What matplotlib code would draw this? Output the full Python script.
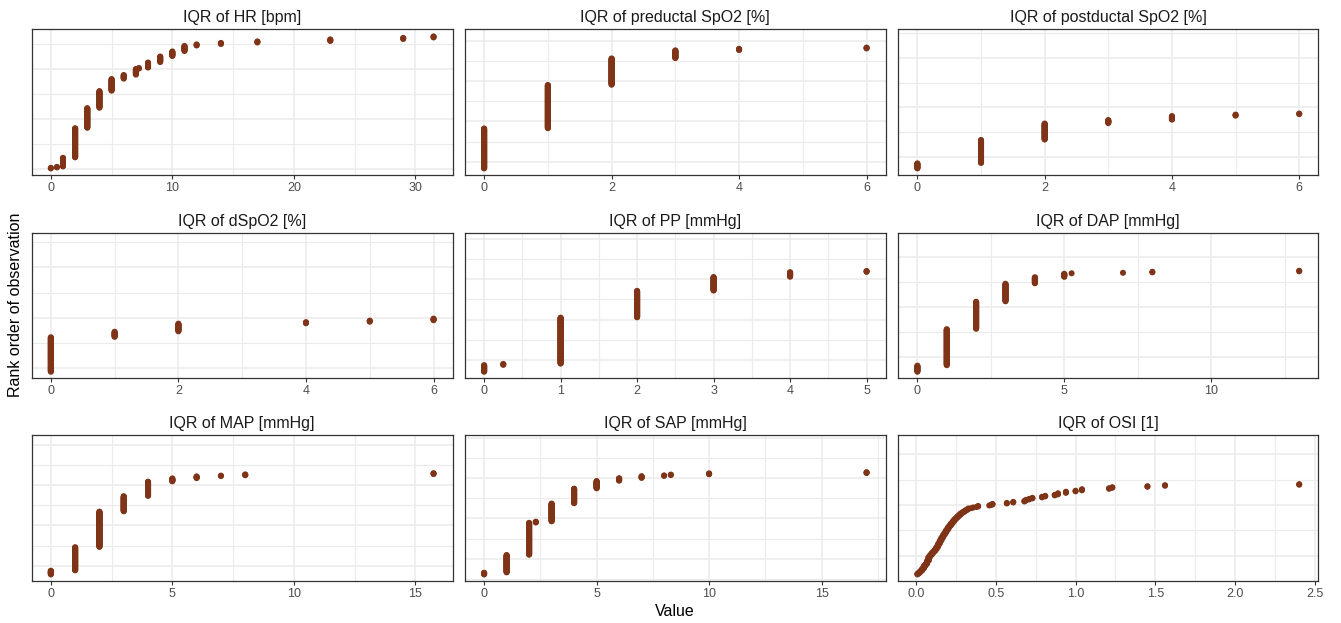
import matplotlib
matplotlib.use("Agg")
import matplotlib.pyplot as plt
from matplotlib.ticker import MultipleLocator, FormatStrFormatter
import numpy as np

plt.rcParams['font.family'] = ['Liberation Sans', 'DejaVu Sans']

# ---- data: distinct IQR values, how many observations share each, total observations ----
hr_values = [0, 0.5, 1, 2, 3, 4, 5, 6, 7, 7.25, 8, 9, 10, 11, 12, 14, 17, 23, 29, 31.5]
hr_counts = [2, 2, 18, 59, 40, 34, 24, 8, 12, 2, 11, 12, 10, 11, 3, 3, 3, 4, 3, 3]
hr_total = 265

pre_values = [0, 1, 2, 3, 4, 6]
pre_counts = [100, 108, 66, 20, 4, 3]
pre_total = 330

post_values = [0, 1, 2, 3, 4, 5, 6]
post_counts = [11, 47, 33, 7, 8, 3, 2]
post_total = 267

dspo2_values = [0, 1, 2, 4, 5, 6]
dspo2_counts = [69, 11, 16, 3, 3, 4]
dspo2_total = 263

pp_values = [0, 0.25, 1, 2, 3, 4, 5]
pp_counts = [17, 3, 114, 66, 34, 12, 3]
pp_total = 327

dap_values = [0, 1, 2, 3, 4, 5, 5.25, 7, 8, 13]
dap_counts = [13, 73, 55, 36, 13, 7, 1, 1, 2, 2]
dap_total = 266

map_values = [0, 1, 2, 3, 4, 5, 6, 7, 8, 15.75]
map_counts = [10, 58, 88, 38, 36, 8, 5, 2, 3, 3]
map_total = 329

sap_values = [0, 1, 2, 2.3, 3, 4, 5, 6, 7, 8, 8.3, 10, 17]
sap_counts = [5, 44, 80, 3, 45, 37, 19, 7, 5, 2, 2, 3, 3]
sap_total = 331

osi_values = [0.01, 0.02, 0.03, 0.04, 0.05, 0.06, 0.07, 0.08, 0.09, 0.10,
              0.11, 0.12, 0.13, 0.14, 0.15, 0.16, 0.17, 0.18, 0.19, 0.20,
              0.21, 0.22, 0.23, 0.24, 0.25, 0.26, 0.27, 0.28, 0.29, 0.30,
              0.31, 0.32, 0.33, 0.35, 0.36, 0.38, 0.39, 0.46, 0.47, 0.48,
              0.57, 0.61, 0.68, 0.69, 0.71, 0.73, 0.79, 0.81, 0.87, 0.89,
              0.94, 1.00, 1.04, 1.21, 1.23, 1.45, 1.56, 2.40]
osi_counts = [2, 3, 3, 4, 5, 4, 6, 8, 4, 4,
              3, 4, 5, 6, 6, 6, 5, 5, 5, 5,
              4, 4, 4, 4, 3, 3, 3, 3, 2, 2,
              2, 2, 2, 1, 1, 1, 2, 1, 1, 2,
              2, 2, 2, 2, 2, 2, 2, 2, 2, 3,
              3, 2, 3, 2, 2, 2, 2, 2]
osi_total = 263

titles = ["IQR of HR [bpm]", "IQR of preductal SpO2 [%]", "IQR of postductal SpO2 [%]",
          "IQR of dSpO2 [%]", "IQR of PP [mmHg]", "IQR of DAP [mmHg]",
          "IQR of MAP [mmHg]", "IQR of SAP [mmHg]", "IQR of OSI [1]"]

panels = [
    (hr_values, hr_counts, hr_total),
    (pre_values, pre_counts, pre_total),
    (post_values, post_counts, post_total),
    (dspo2_values, dspo2_counts, dspo2_total),
    (pp_values, pp_counts, pp_total),
    (dap_values, dap_counts, dap_total),
    (map_values, map_counts, map_total),
    (sap_values, sap_counts, sap_total),
    (osi_values, osi_counts, osi_total),
]

# ---- per-panel axis styling: x tick step, tick label format, y grid phase ----
x_steps = [10, 2, 2, 2, 1, 5, 5, 5, 0.5]
x_formats = ['%d', '%d', '%d', '%d', '%d', '%d', '%d', '%d', '%.1f']
y_grid_phase = [-0.8, 17.6, 23.4, 7.7, 29, 31, 21.8, 40, 38]

W, H = 1341, 623
fig = plt.figure(figsize=(W / 100, H / 100), dpi=100)

col_lr = [(31.7, 452.7), (465.0, 885.7), (898.3, 1318.3)]
row_tb = [(29.3, 175.0), (232.7, 378.3), (435.0, 581.0)]

POINT = '#7F3317'
GRID = '#EBEBEB'

for i, (vals, cnts, total) in enumerate(panels):
    r, c = divmod(i, 3)
    (l, rgt), (t, b) = col_lr[c], row_tb[r]
    ax = fig.add_axes([l / W, 1 - b / H, (rgt - l) / W, (b - t) / H])

    # each observation sits at its rank; tied values stack into vertical runs
    x = np.repeat(np.asarray(vals, dtype=float), cnts)
    y = np.arange(1, len(x) + 1)
    ax.scatter(x, y, s=19, color=POINT, edgecolors='none', zorder=3)

    xmin, xmax = min(vals), max(vals)
    xs = xmax - xmin
    ax.set_xlim(xmin - 0.05 * xs, xmax + 0.05 * xs)
    ys = total - 1
    ax.set_ylim(1 - 0.05 * ys, total + 0.05 * ys)

    step = x_steps[i]
    ax.xaxis.set_major_locator(MultipleLocator(step))
    ax.xaxis.set_minor_locator(MultipleLocator(step / 2))
    ax.xaxis.set_major_formatter(FormatStrFormatter(x_formats[i]))
    ax.yaxis.set_major_locator(MultipleLocator(100, offset=y_grid_phase[i] % 100))
    ax.yaxis.set_minor_locator(MultipleLocator(50, offset=y_grid_phase[i] % 50))

    ax.grid(which='major', color=GRID, linewidth=1.1, zorder=0)
    ax.grid(which='minor', color=GRID, linewidth=0.8, zorder=0)
    ax.set_axisbelow(True)

    ax.tick_params(axis='x', which='major', length=3, width=0.8, color='#333333',
                   labelsize=9, labelcolor='#4D4D4D', pad=2)
    ax.tick_params(axis='x', which='minor', length=0)
    ax.tick_params(axis='y', which='both', length=0, labelleft=False)

    for sp in ax.spines.values():
        sp.set_color('#333333')
        sp.set_linewidth(0.9)

    ax.set_title(titles[i], fontsize=11.5, color='#1A1A1A', pad=5)

fig.text(675 / W, 1 - 612 / H, 'Value', ha='center', va='center',
         fontsize=11.5, color='#000000')
fig.text(15.5 / W, 1 - 305 / H, 'Rank order of observation', ha='center', va='center',
         rotation=90, fontsize=11.5, color='#000000')

fig.savefig('out.png', dpi=100)
